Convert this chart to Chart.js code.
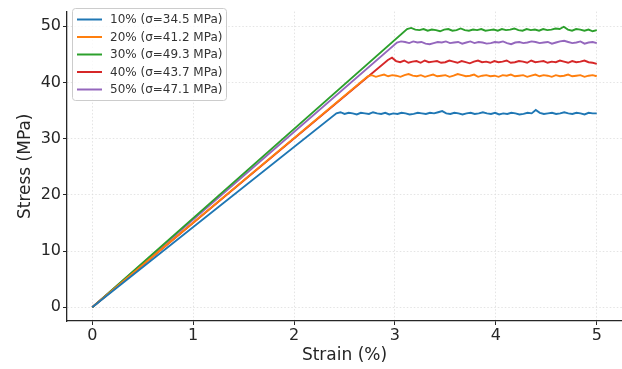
<!DOCTYPE html>
<html>
<head>
<meta charset="utf-8">
<script src="https://cdn.jsdelivr.net/npm/chart.js@4"></script>
<style>
html,body{margin:0;padding:0;background:#fff;}
#c{display:block;}
</style>
</head>
<body>
<canvas id="c" width="622" height="369"></canvas>
<script>
const labels = ["10% (σ=34.5 MPa)","20% (σ=41.2 MPa)","30% (σ=49.3 MPa)","40% (σ=43.7 MPa)","50% (σ=47.1 MPa)"];
const colors = ["#1f77b4","#ff7f0e","#2ca02c","#d62728","#9467bd"];
const xTicks = [0,1,2,3,4,5];
const yTicks = [0,10,20,30,40,50];
// strain (%) where each curve reaches its plateau
const yieldStrain = [2.42, 2.73, 3.12, 2.93, 3.02];
const endStrain = 5.0;
// plateau stress readings (MPa), sampled evenly from yield strain to 5 %
const plateau10 = [34.5,34.7,34.4,34.6,34.5,34.3,34.6,34.5,34.4,34.7,34.5,34.4,34.6,34.3,34.5,34.4,34.6,34.5,34.3,34.4,34.6,34.5,34.4,34.6,34.5,34.7,34.9,34.5,34.4,34.6,34.5,34.3,34.5,34.6,34.4,34.5,34.7,34.5,34.4,34.6,34.3,34.5,34.4,34.6,34.5,34.3,34.4,34.6,34.5,35.1,34.6,34.4,34.5,34.6,34.4,34.5,34.7,34.5,34.4,34.6,34.5,34.3,34.6,34.5,34.5];
const plateau20 = [41.1,41.3,41.0,41.2,41.4,41.1,41.3,41.2,41.0,41.3,41.5,41.2,41.1,41.3,41.0,41.2,41.4,41.1,41.2,41.3,41.0,41.2,41.5,41.3,41.1,41.2,41.4,41.0,41.2,41.3,41.1,41.2,41.0,41.3,41.2,41.4,41.1,41.2,41.3,41.0,41.2,41.4,41.1,41.3,41.2,41.0,41.3,41.1,41.2,41.4,41.1,41.2,41.3,41.0,41.2,41.3,41.1];
const plateau30 = [49.5,49.7,49.4,49.3,49.5,49.2,49.4,49.3,49.1,49.4,49.5,49.2,49.3,49.6,49.3,49.2,49.4,49.3,49.5,49.2,49.3,49.4,49.2,49.5,49.3,49.4,49.6,49.3,49.2,49.5,49.3,49.4,49.2,49.5,49.3,49.4,49.6,49.5,49.9,49.4,49.2,49.5,49.4,49.2,49.4,49.1,49.3];
const plateau40 = [44.0,44.4,43.8,43.6,43.9,43.5,43.7,43.8,43.5,43.9,43.6,43.7,43.8,43.5,43.6,43.9,43.7,43.5,43.8,43.6,43.4,43.7,43.9,43.6,43.7,43.5,43.8,43.6,43.7,43.9,43.5,43.6,43.8,43.7,43.5,43.9,43.6,43.7,43.8,43.5,43.7,43.6,43.9,43.7,43.5,43.8,43.6,43.7,43.9,43.6,43.5,43.3];
const plateau50 = [47.1,47.3,47.2,47.0,47.3,47.1,47.2,46.9,46.8,47.0,47.2,47.1,47.3,47.0,47.1,47.2,46.9,47.1,47.3,47.0,47.2,47.1,46.9,47.0,47.2,47.1,47.3,47.0,46.8,47.1,47.2,47.0,47.1,47.3,47.2,47.0,47.1,47.2,46.9,47.1,47.3,47.4,47.2,47.0,47.1,47.3,46.9,47.1,47.2,47.0];
const plateaus = [plateau10, plateau20, plateau30, plateau40, plateau50];

function curve(k){
  const vals = plateaus[k], y0 = yieldStrain[k], n = vals.length;
  const pts = [{x:0, y:0}];
  vals.forEach((v,i)=>pts.push({x: y0 + i*(endStrain-y0)/(n-1), y: v}));
  return pts;
}

const FONT = "'DejaVu Sans', sans-serif";

const legendBox = {
  id:'legendBox',
  afterDatasetsDraw(chart){
    const ctx = chart.ctx;
    const x0 = 72.5, y0 = 8.5, w = 154, h = 92;
    ctx.save();
    ctx.fillStyle = 'rgba(255,255,255,0.8)';
    ctx.strokeStyle = '#cccccc';
    ctx.lineWidth = 1;
    ctx.beginPath();
    ctx.roundRect(x0, y0, w, h, 3);
    ctx.fill(); ctx.stroke();
    ctx.font = "12px " + FONT;
    ctx.textBaseline = 'middle';
    chart.data.datasets.forEach((ds,i)=>{
      const yy = 19.5 + i*17.5;
      ctx.strokeStyle = ds.borderColor;
      ctx.lineWidth = 2;
      ctx.beginPath(); ctx.moveTo(77, yy); ctx.lineTo(102, yy); ctx.stroke();
      ctx.fillStyle = '#333333';
      ctx.fillText(ds.label, 110, yy+0.5);
    });
    ctx.restore();
  }
};

new Chart(document.getElementById('c'), {
  type:'line',
  data:{
    datasets: labels.map((l,k)=>({
      label:l, data:curve(k), borderColor:colors[k], backgroundColor:colors[k],
      borderWidth:1.9, pointRadius:0, tension:0, fill:false
    }))
  },
  options:{
    responsive:false, animation:false,
    layout:{padding:{top:4, right:0, left:0, bottom:0}},
    plugins:{legend:{display:false}, tooltip:{enabled:false}},
    scales:{
      x:{
        type:'linear', min:-0.25, max:5.25,
        afterBuildTicks: s => { s.ticks = xTicks.map(v=>({value:v})); },
        afterFit: s => { s.height = 48; },
        ticks:{font:{family:FONT, size:16}, color:'#262626', padding:1, maxRotation:0},
        grid:{color:'#dddddd', lineWidth:0.8, tickColor:'#262626', tickLength:4, tickWidth:1},
        border:{color:'#262626', width:1.3, dash:[1.5,2]},
        title:{display:true, text:'Strain (%)', font:{family:FONT, size:17}, color:'#262626', padding:{top:0, bottom:3}}
      },
      y:{
        type:'linear', min:-2.43, max:52.6,
        afterBuildTicks: s => { s.ticks = yTicks.map(v=>({value:v})); },
        afterFit: s => { s.width = 67; },
        ticks:{font:{family:FONT, size:16}, color:'#262626', padding:2},
        grid:{color:'#dddddd', lineWidth:0.8, tickColor:'#262626', tickLength:4, tickWidth:1},
        border:{color:'#262626', width:1.3, dash:[1.5,2]},
        title:{display:true, text:'Stress (MPa)', font:{family:FONT, size:17}, color:'#262626', padding:{top:15, bottom:0}}
      }
    }
  },
  plugins:[legendBox]
});
</script>
</body>
</html>
